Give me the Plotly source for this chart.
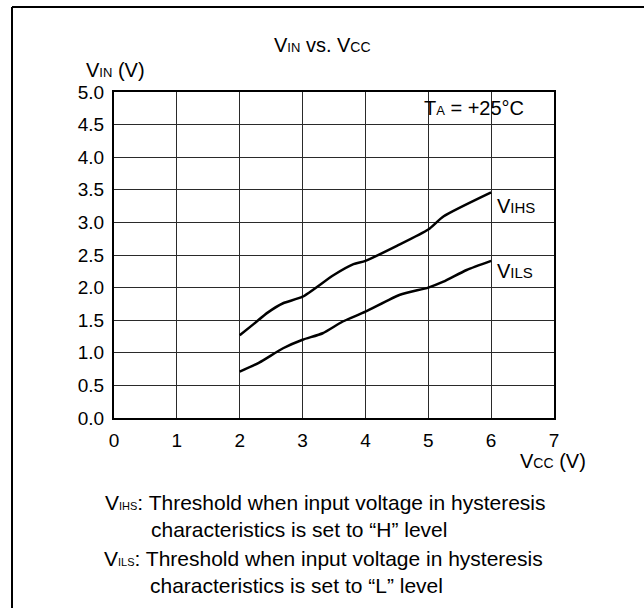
import plotly.graph_objects as go

# Data
vcc_ihs = [2.0, 2.22, 2.45, 2.69, 3.0, 3.49, 3.81, 4.0, 4.5, 5.0, 5.24, 6.0]
vihs = [1.27, 1.44, 1.62, 1.76, 1.86, 2.19, 2.36, 2.41, 2.64, 2.89, 3.09, 3.46]
vcc_ils = [2.0, 2.31, 2.69, 3.0, 3.32, 3.64, 4.0, 4.55, 5.0, 5.24, 5.61, 6.0]
vils = [0.71, 0.85, 1.07, 1.20, 1.30, 1.48, 1.63, 1.89, 2.00, 2.09, 2.27, 2.41]

x_ticks = [0, 1, 2, 3, 4, 5, 6, 7]
y_ticks = [0.0, 0.5, 1.0, 1.5, 2.0, 2.5, 3.0, 3.5, 4.0, 4.5, 5.0]

FONT = "Liberation Sans, Arial, sans-serif"


def sub(t, s):
    return f"<span style='font-size:{s}px'>{t}</span>"


W, H = 644, 608
L, R, T, B = 114, 554, 92, 418


def px(x):
    return (x - L) / (R - L)


def py(y):
    return (B - y) / (B - T)


fig = go.Figure()
fig.add_trace(go.Scatter(x=vcc_ihs, y=vihs, mode="lines",
                         line=dict(color="black", width=2.5, shape="spline", smoothing=0.6),
                         showlegend=False, hoverinfo="skip"))
fig.add_trace(go.Scatter(x=vcc_ils, y=vils, mode="lines",
                         line=dict(color="black", width=2.5, shape="spline", smoothing=0.6),
                         showlegend=False, hoverinfo="skip"))

fig.update_layout(
    width=W, height=H,
    margin=dict(l=L, r=W - R, t=T, b=H - B, pad=0),
    paper_bgcolor="white", plot_bgcolor="white",
    font=dict(family=FONT, size=19, color="black"),
    showlegend=False,
)
fig.update_xaxes(range=[0, 7], tickvals=x_ticks, ticktext=[str(v) for v in x_ticks],
                 showgrid=True, gridcolor="#2a2a2a", gridwidth=1,
                 showline=True, linecolor="black", linewidth=2, mirror=True,
                 zeroline=False, ticks="outside", ticklen=4, tickcolor="rgba(0,0,0,0)",
                 tickfont=dict(size=19))
fig.update_yaxes(range=[0, 5], tickvals=y_ticks, ticktext=[f"{v:.1f}" for v in y_ticks],
                 showgrid=True, gridcolor="#2a2a2a", gridwidth=1,
                 showline=True, linecolor="black", linewidth=2, mirror=True,
                 zeroline=False, ticks="outside", ticklen=4, tickcolor="rgba(0,0,0,0)",
                 tickfont=dict(size=19))

ann = []


def add(text, x, y, xanchor="left", size=20):
    ann.append(dict(text=text, x=px(x), y=py(y), xref="paper", yref="paper",
                    xanchor=xanchor, yanchor="middle", showarrow=False,
                    font=dict(family=FONT, size=size, color="black")))


add("V" + sub("IN", 13) + " vs. V" + sub("CC", 14), 322, 45, "center")
add("V" + sub("IN", 13) + " (V)", 84, 70)
add("V" + sub("CC", 14) + " (V)", 553, 461, "center")
add("T" + sub("A", 13) + " = +25°C", 422, 108)
add("V" + sub("IHS", 15), 495, 206)
add("V" + sub("ILS", 15), 495, 271)
add("V" + sub("IHS", 11) + ": Threshold when input voltage in hysteresis", 103, 502, size=21)
add("characteristics is set to “H” level", 149, 529, size=21)
add("V" + sub("ILS", 11) + ": Threshold when input voltage in hysteresis", 102, 558, size=21)
add("characteristics is set to “L” level", 148, 585, size=21)
fig.update_layout(annotations=ann)

# outer frame (top and left edges visible)
fig.add_shape(type="line", xref="paper", yref="paper",
              x0=px(12), y0=py(7), x1=px(650), y1=py(7), line=dict(color="black", width=2))
fig.add_shape(type="line", xref="paper", yref="paper",
              x0=px(12), y0=py(7), x1=px(12), y1=py(615), line=dict(color="black", width=2))

fig.write_html("out.html", config={"displayModeBar": False},
               post_script="document.body.style.margin='0';")
